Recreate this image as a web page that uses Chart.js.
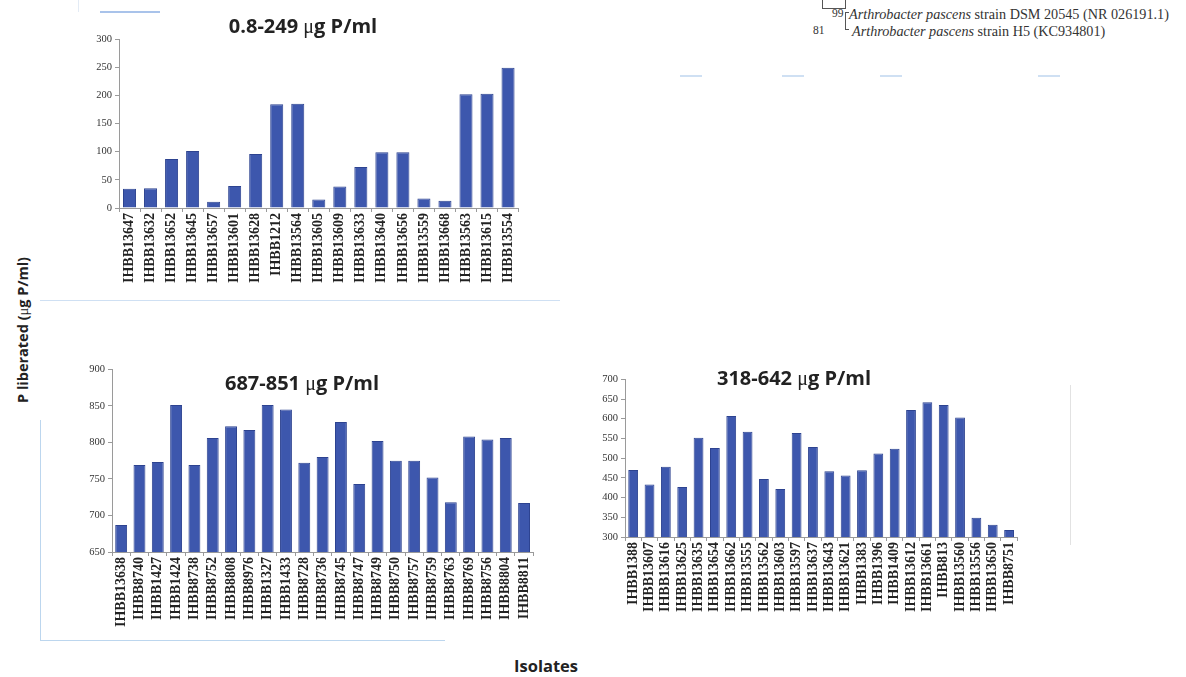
<!DOCTYPE html>
<html>
<head>
<meta charset="utf-8">
<script src="https://cdn.jsdelivr.net/npm/chart.js@4.4.0/dist/chart.umd.min.js"></script>
<style>
  html, body { margin: 0; padding: 0; background: #fff; }
  body { width: 1186px; height: 677px; position: relative; overflow: hidden; font-family: "Open Sans", sans-serif; }
  .box { position: absolute; }
  .title { position: absolute; transform: translate(-50%, -50%); white-space: nowrap;
           font-family: "Open Sans", sans-serif; font-weight: 700; font-size: 20px; color: #222; }
  .mu { font-family: "Liberation Serif", serif; font-weight: 400; }
  .axis-y { position: absolute; left: 22px; top: 330px; transform: translate(-50%, -50%) rotate(-90deg);
            white-space: nowrap; font-weight: 700; font-size: 14.5px; color: #222; }
  .axis-x { position: absolute; left: 546px; top: 665px; transform: translate(-50%, -50%);
            font-weight: 700; font-size: 16.5px; color: #222; }
  .tree { position: absolute; font-family: "Liberation Serif", serif; font-size: 14.2px; color: #333; white-space: nowrap; }
  .tree i { font-style: italic; }
  .ln { position: absolute; background: #555; }
  .deco { position: absolute; background: #cfe0f3; }
</style>
</head>
<body>

<!-- faint frame pieces around the panels -->
<div class="deco" style="left:100px;top:11px;width:60px;height:2px;background:#a9c3ea"></div>
<div class="deco" style="left:78px;top:0;width:1px;height:12px;background:#e3ebf5"></div>
<div class="deco" style="left:40px;top:300px;width:520px;height:1px;"></div>
<div class="deco" style="left:680px;top:75px;width:22px;height:2px;"></div>
<div class="deco" style="left:782px;top:75px;width:22px;height:2px;"></div>
<div class="deco" style="left:880px;top:75px;width:22px;height:2px;"></div>
<div class="deco" style="left:1038px;top:75px;width:22px;height:2px;"></div>
<div class="deco" style="left:40px;top:420px;width:1px;height:220px;background:#bcd6ee"></div>
<div class="deco" style="left:40px;top:640px;width:405px;height:1px;background:#bcd6ee"></div>
<div class="deco" style="left:1070px;top:385px;width:1px;height:160px;background:#e2e2e2"></div>

<!-- tree fragment -->
<div class="ln" style="left:822px;top:0;width:1px;height:8px"></div>
<div class="ln" style="left:822px;top:8px;width:24px;height:1px"></div>
<div class="ln" style="left:845px;top:0;width:1px;height:8px"></div>
<div class="ln" style="left:845px;top:12px;width:1px;height:18px"></div>
<div class="ln" style="left:845px;top:12px;width:4px;height:1px"></div>
<div class="ln" style="left:845px;top:29px;width:4px;height:1px"></div>
<div class="tree" style="left:832px;top:7px;font-size:11.5px">99</div>
<div class="tree" style="left:849px;top:6px"><i>Arthrobacter pascens</i> strain DSM 20545 (NR 026191.1)</div>
<div class="tree" style="left:813px;top:24px;font-size:11.5px">81</div>
<div class="tree" style="left:852px;top:23px"><i>Arthrobacter pascens</i> strain H5 (KC934801)</div>

<div class="box" style="left:80px;top:28px;width:446px;height:272px"><canvas id="c1" width="446" height="272"></canvas></div>
<div class="box" style="left:70px;top:360px;width:472px;height:285px"><canvas id="c2" width="472" height="285"></canvas></div>
<div class="box" style="left:585px;top:370px;width:442px;height:250px"><canvas id="c3" width="442" height="250"></canvas></div>

<div class="title" style="left:303px;top:25px">0.8-249 <span class="mu">μ</span>g P/ml</div>
<div class="title" style="left:302px;top:382px">687-851 <span class="mu">μ</span>g P/ml</div>
<div class="title" style="left:794px;top:377px">318-642 <span class="mu">μ</span>g P/ml</div>

<div class="axis-y">P liberated (<span class="mu">μ</span>g P/ml)</div>
<div class="axis-x">Isolates</div>

<script>
// Isolates liberating 0.8-249 µg P/ml
const lowIsolates = ["IHBB13647","IHBB13632","IHBB13652","IHBB13645","IHBB13657","IHBB13601","IHBB13628","IHBB1212","IHBB13564","IHBB13605","IHBB13609","IHBB13633","IHBB13640","IHBB13656","IHBB13559","IHBB13668","IHBB13563","IHBB13615","IHBB13554"];
const lowValues = [34, 35, 87, 101, 11, 39, 96, 184, 185, 15, 38, 73, 99, 99, 17, 13, 202, 203, 249];
const lowTicks = { min: 0, max: 300, step: 50 };

// Isolates liberating 687-851 µg P/ml
const highIsolates = ["IHBB13638","IHBB8740","IHBB1427","IHBB1424","IHBB8738","IHBB8752","IHBB8808","IHBB8976","IHBB1327","IHBB1433","IHBB8728","IHBB8736","IHBB8745","IHBB8747","IHBB8749","IHBB8750","IHBB8757","IHBB8759","IHBB8763","IHBB8769","IHBB8756","IHBB8804","IHBB8811"];
const highValues = [687, 769, 773, 851, 769, 806, 822, 817, 851, 845, 772, 780, 828, 743, 802, 775, 775, 752, 718, 808, 804, 806, 717];
const highTicks = { min: 650, max: 900, step: 50 };

// Isolates liberating 318-642 µg P/ml
const midIsolates = ["IHBB1388","IHBB13607","IHBB13616","IHBB13625","IHBB13635","IHBB13654","IHBB13662","IHBB13555","IHBB13562","IHBB13603","IHBB13597","IHBB13637","IHBB13643","IHBB13621","IHBB1383","IHBB1396","IHBB1409","IHBB13612","IHBB13661","IHBB813","IHBB13560","IHBB13556","IHBB13650","IHBB8751"];
const midValues = [470, 433, 478, 427, 552, 526, 607, 567, 447, 422, 564, 528, 467, 456, 469, 512, 524, 622, 642, 635, 603, 349, 331, 318];
const midTicks = { min: 300, max: 700, step: 50 };

const BAR = '#3d57ad';
const BAR_EDGE = '#2d4390';
const AXIS = '#9a9a9a';

function panel(id, labels, values, ticks, geom) {
  new Chart(document.getElementById(id), {
    type: 'bar',
    data: {
      labels: labels,
      datasets: [{
        data: values,
        backgroundColor: BAR,
        borderColor: BAR_EDGE,
        borderWidth: 1,
        barPercentage: geom.bar,
        categoryPercentage: 1.0
      }]
    },
    options: {
      responsive: false,
      animation: false,
      devicePixelRatio: 1,
      layout: { padding: { top: geom.top, right: geom.right, left: 0, bottom: 0 } },
      plugins: { legend: { display: false }, tooltip: { enabled: false }, title: { display: false } },
      scales: {
        x: {
          grid: { display: true, drawOnChartArea: false, drawTicks: true, tickLength: 4, color: AXIS, offset: true },
          border: { display: true, color: AXIS, width: 1 },
          ticks: {
            autoSkip: false, minRotation: 90, maxRotation: 90, padding: 1,
            color: '#222',
            font: { family: 'Liberation Serif', size: 14, weight: 'bold' }
          },
          afterFit: function (s) { s.height = geom.xh; }
        },
        y: {
          min: ticks.min, max: ticks.max,
          grid: { display: true, drawOnChartArea: false, drawTicks: true, tickLength: 4, color: AXIS },
          border: { display: true, color: AXIS, width: 1 },
          ticks: {
            stepSize: ticks.step, padding: 3, color: '#333',
            font: { family: 'Liberation Serif', size: 10.5 }
          },
          afterFit: function (s) { s.width = geom.yw; }
        }
      }
    }
  });
}

panel('c1', lowIsolates, lowValues, lowTicks, { top: 11, right: 6, yw: 39, xh: 92, bar: 0.62 });
panel('c2', highIsolates, highValues, highTicks, { top: 8, right: 6, yw: 42, xh: 93, bar: 0.65 });
panel('c3', midIsolates, midValues, midTicks, { top: 9, right: 6, yw: 40, xh: 83, bar: 0.6 });
</script>
</body>
</html>
